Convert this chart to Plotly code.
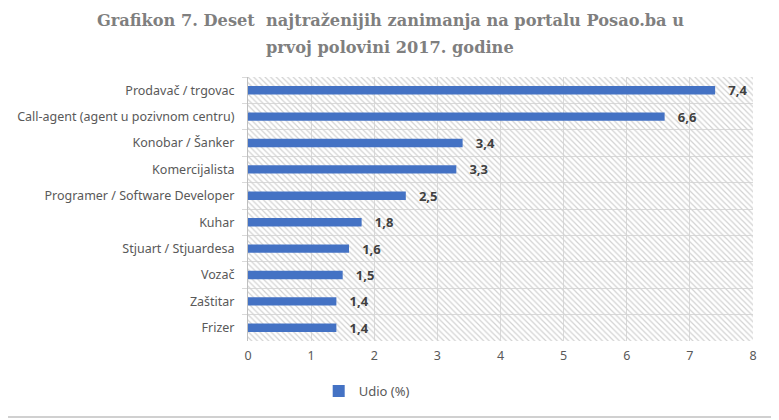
import plotly.graph_objects as go

categories = ["Prodavač / trgovac", "Call-agent (agent u pozivnom centru)", "Konobar / Šanker",
              "Komercijalista", "Programer / Software Developer", "Kuhar",
              "Stjuart / Stjuardesa", "Vozač", "Zaštitar", "Frizer"]
values = [7.4, 6.6, 3.4, 3.3, 2.5, 1.8, 1.6, 1.5, 1.4, 1.4]
x_ticks = [0, 1, 2, 3, 4, 5, 6, 7, 8]
series_name = "Udio (%)"
title_lines = ["Grafikon 7. Deset  najtraženijih zanimanja na portalu Posao.ba u",
               "prvoj polovini 2017. godine"]

labels = ["\u00a0\u00a0\u00a0" + f"{v:.1f}".replace(".", ",") for v in values]

fig = go.Figure()
# hatched plot background
fig.add_trace(go.Bar(
    y=[categories[0]], x=[max(x_ticks)], orientation="h", width=len(categories), offset=-0.5,
    marker=dict(color="rgba(0,0,0,0)", line=dict(width=0),
                pattern=dict(shape="\\", fgcolor="#d2d2d2", size=4, solidity=0.3)),
    showlegend=False, hoverinfo="skip"))
fig.add_trace(go.Bar(
    y=categories, x=values, orientation="h", width=0.32, name=series_name,
    marker=dict(color="#4472C4", line=dict(width=0)),
    text=labels, textposition="outside", cliponaxis=False, constraintext="none",
    textfont=dict(family="Open Sans", size=13, color="#404040", weight="bold")))

title_font = dict(family="DejaVu Serif", size=16.2, color="#7f7f7f", weight="bold")
annotations = [
    dict(text=title_lines[0], xref="paper", yref="paper", x=0.2812, y=1.2159,
         xanchor="center", yanchor="middle", showarrow=False, font=title_font),
    dict(text=title_lines[1], xref="paper", yref="paper", x=0.2812, y=1.1136,
         xanchor="center", yanchor="middle", showarrow=False, font=title_font),
]

fig.update_layout(
    template="none",
    width=771, height=412, barmode="overlay",
    paper_bgcolor="white", plot_bgcolor="white",
    margin=dict(l=240, r=26, t=69, b=79, autoexpand=False),
    annotations=annotations,
    xaxis=dict(range=[0, 8], tickvals=x_ticks, showgrid=True, gridcolor="#d9d9d9", gridwidth=1,
               zeroline=False, showline=False, ticks="", automargin=False, ticklabelstandoff=5,
               tickfont=dict(family="Noto Sans", size=12.5, color="#595959")),
    yaxis=dict(type="category", categoryorder="array", categoryarray=categories,
               autorange="reversed", tickson="boundaries", showgrid=True, gridcolor="#d9d9d9",
               showline=True, linecolor="#bfbfbf", ticks="outside", ticklen=5, tickcolor="#d9d9d9",
               automargin=False, ticklabelstandoff=10, zeroline=False,
               tickfont=dict(family="Noto Sans", size=12.5, color="#595959")),
    legend=dict(orientation="h", x=0.14, xanchor="left", y=-0.19, yanchor="middle",
                itemwidth=30, bgcolor="rgba(0,0,0,0)",
                font=dict(family="Noto Sans", size=13, color="#595959")),
    shapes=[dict(type="line", xref="paper", yref="paper", x0=-260/505, x1=540/505,
                 y0=-76/264, y1=-76/264, line=dict(color="#d0d0d0", width=2))],
)

fig.write_html("out.html")
